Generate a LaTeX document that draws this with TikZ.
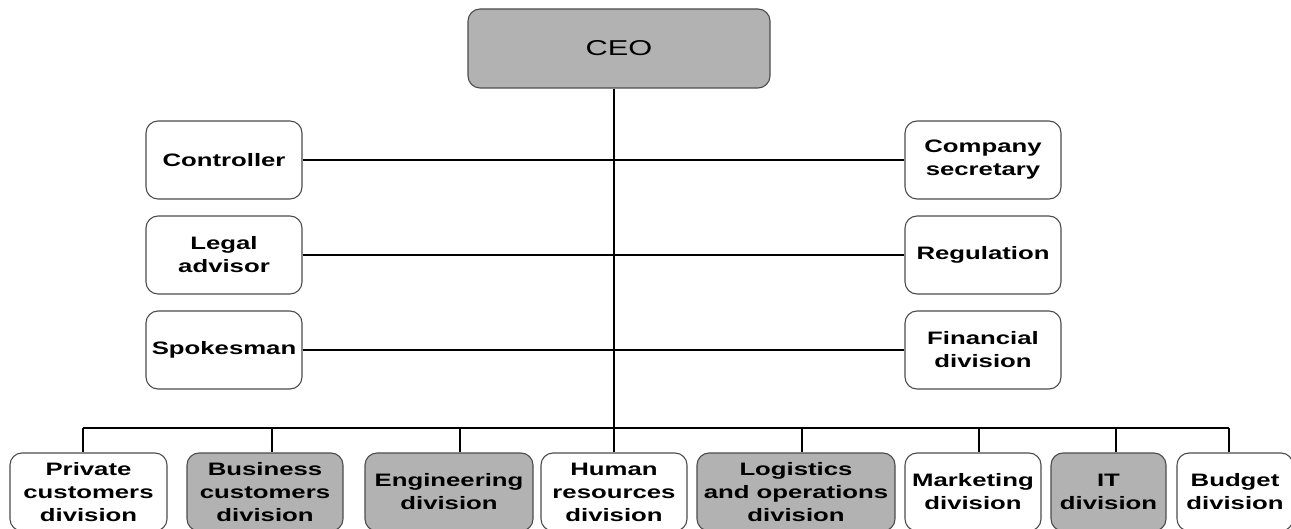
\documentclass[tikz,border=0pt]{standalone}
\usepackage{fontspec}
\setmainfont{Liberation Sans}[FakeStretch=1.43]
\begin{document}
\begin{tikzpicture}[x=1pt,y=1pt,
  box/.style={draw=black!70, line width=1.1pt, rounded corners=12pt, fill=white,
    align=center, inner sep=0pt, font=\bfseries\fontsize{18}{23}\selectfont},
  gbox/.style={box, fill=black!30},
  conn/.style={line width=1.7pt, black}]
\useasboundingbox (0,0) rectangle (1291,-529);
\clip (0,0) rectangle (1291,-529);
% top
\node[gbox, minimum width=302pt, minimum height=79pt, font=\fontsize{21.5}{26}\selectfont] (ceo) at (619,-48.5) {CEO};
% side staff
\node[box, minimum width=156pt, minimum height=78pt] (ctrl) at (224,-160) {Controller};
\node[box, minimum width=156pt, minimum height=78pt] (legal) at (224,-255) {Legal\\advisor};
\node[box, minimum width=156pt, minimum height=78pt] (spoke) at (224,-350) {Spokesman};
\node[box, minimum width=156pt, minimum height=78pt] (sec) at (983,-160) {Company\\secretary};
\node[box, minimum width=156pt, minimum height=78pt] (reg) at (983,-255) {Regulation};
\node[box, minimum width=156pt, minimum height=78pt] (fin) at (983,-350) {Financial\\division};
% bottom row
\node[box, minimum width=157pt, minimum height=78pt] (priv) at (88.5,-492) {Private\\customers\\division};
\node[gbox, minimum width=156pt, minimum height=78pt] (bus) at (265,-492) {Business\\customers\\division};
\node[gbox, minimum width=168pt, minimum height=78pt] (eng) at (449,-492) {Engineering\\division};
\node[box, minimum width=146pt, minimum height=78pt] (hr) at (614,-492) {Human\\resources\\division};
\node[gbox, minimum width=198pt, minimum height=78pt] (log) at (796,-492) {Logistics\\and operations\\division};
\node[box, minimum width=136pt, minimum height=78pt] (mkt) at (973,-492) {Marketing\\division};
\node[gbox, minimum width=115pt, minimum height=78pt] (it) at (1108.5,-492) {IT\\division};
\node[box, minimum width=116pt, minimum height=78pt] (bud) at (1235,-492) {Budget\\division};
% connectors
\coordinate (d1) at (83,-428);
\coordinate (d2) at (272,-428);
\coordinate (d3) at (460,-428);
\coordinate (d4) at (614,-428);
\coordinate (d5) at (802,-428);
\coordinate (d6) at (979,-428);
\coordinate (d7) at (1116,-428);
\coordinate (d8) at (1229,-428);
\draw[conn] (ceo.south -| d4) -- (hr.north);
\draw[conn] (ctrl.east) -- (sec.west);
\draw[conn] (legal.east) -- (reg.west);
\draw[conn] (spoke.east) -- (fin.west);
\draw[conn] (d1) -- (d8);
\foreach \d/\n in {d1/priv,d2/bus,d3/eng,d5/log,d6/mkt,d7/it,d8/bud}
  \draw[conn] (\d) -- (\d |- \n.north);
\end{tikzpicture}
\end{document}
